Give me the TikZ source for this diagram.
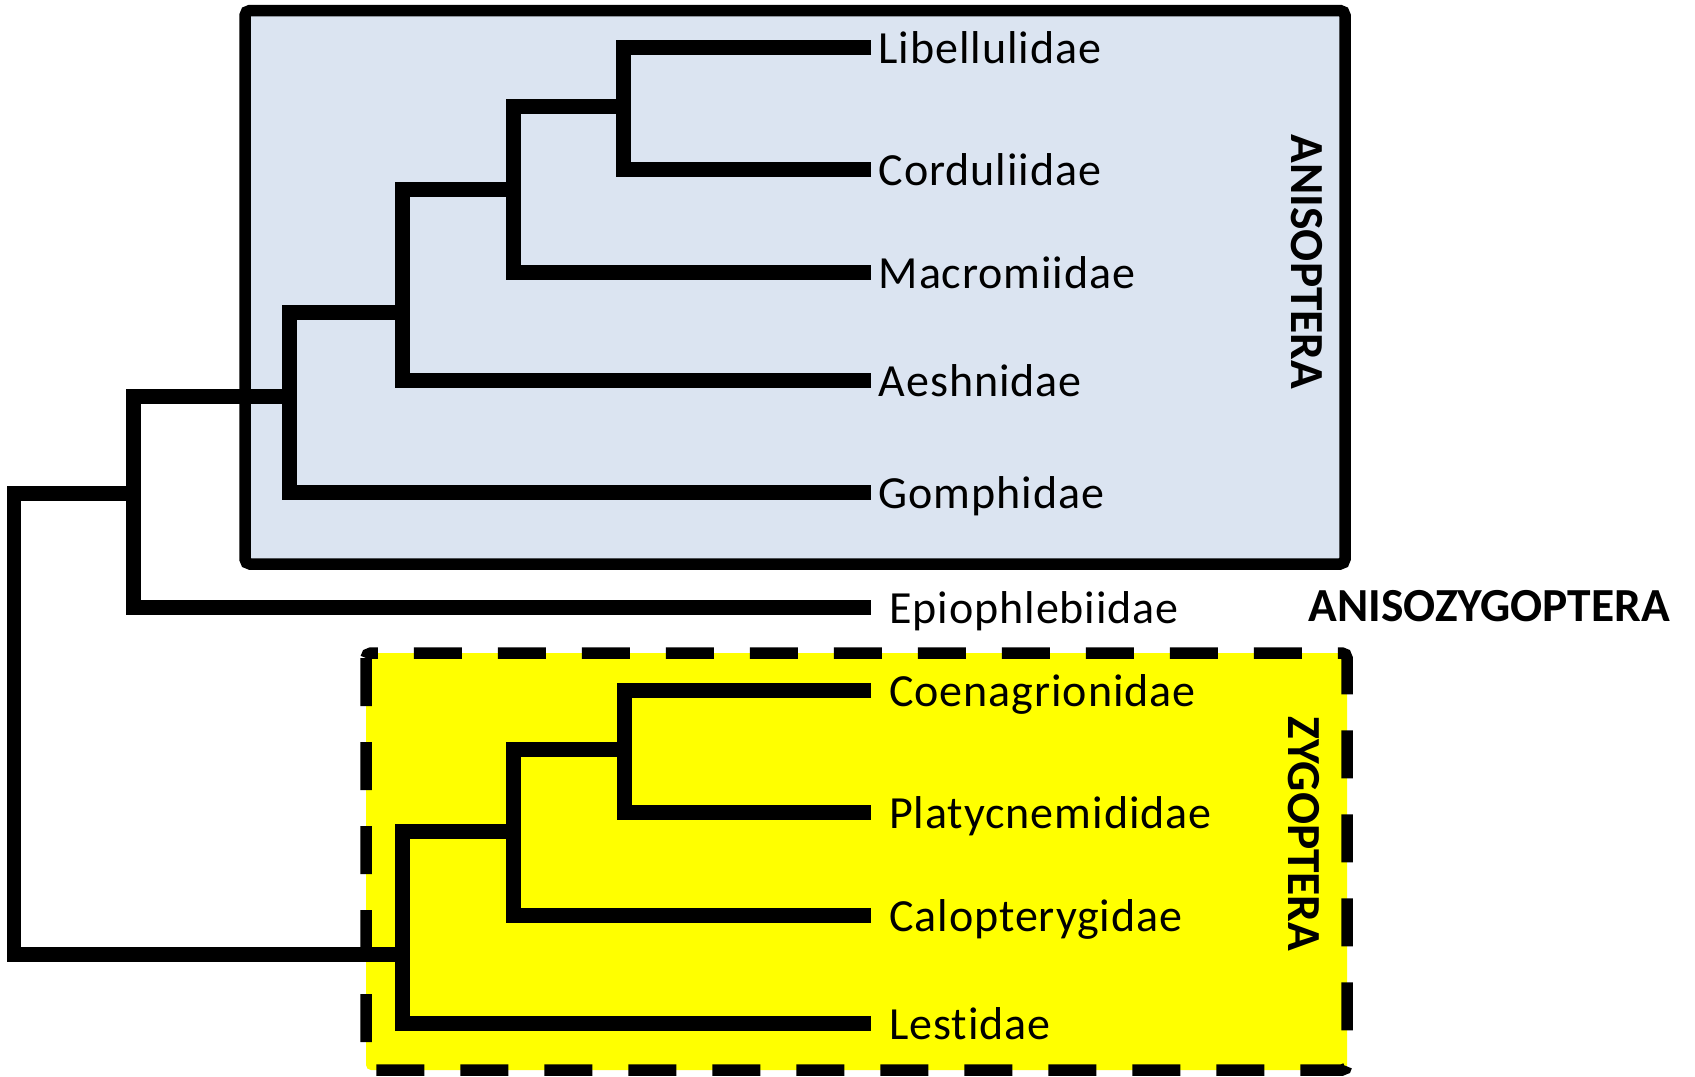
\documentclass[tikz,border=0pt]{standalone}
\usepackage{fontspec}
\setmainfont{Carlito}
\newfontfamily\leaffont[LetterSpace=2.0, Ligatures={NoCommon}]{Carlito}
\definecolor{anisofill}{RGB}{219,228,241}
\definecolor{zygofill}{RGB}{255,255,0}

\begin{document}
\begin{tikzpicture}[
    branch/.style={line width=0.15cm},
    leaf/.style={anchor=west, inner xsep=0.07cm, inner ysep=0pt, text height=0.32cm, text depth=0pt,
        font={\leaffont\fontsize{13.1pt}{15pt}\selectfont}},
    group/.style={inner sep=0pt, font={\bfseries\fontsize{13.5pt}{16pt}\selectfont}}
]
    \useasboundingbox (0,0) rectangle (16.95,-10.76);

    % Boxes
    \draw[line width=0.115cm, fill=anisofill, rounded corners=0.05cm] (2.45,-0.105) rectangle (13.45,-5.64);
    \draw[line width=0.115cm, fill=zygofill, rounded corners=0.05cm, dash pattern=on 0.48cm off 0.36cm] (3.66,-6.53) rectangle (13.47,-10.70);

    % Leaves
    \node[leaf] (Lib) at (8.71,-0.47) {Libellulidae};
    \node[leaf] (Cor) at (8.71,-1.69) {Corduliidae};
    \node[leaf] (Mac) at (8.71,-2.72) {Macromiidae};
    \node[leaf] (Aes) at (8.71,-3.80) {Aeshnidae};
    \node[leaf] (Gom) at (8.71,-4.92) {Gomphidae};
    \node[leaf, inner xsep=0.175cm] (Epi) at (8.71,-6.07) {Epiophlebiidae};
    \node[leaf, inner xsep=0.175cm] (Coe) at (8.71,-6.90) {Coenagrionidae};
    \node[leaf, inner xsep=0.175cm] (Pla) at (8.71,-8.12) {Platycnemididae};
    \node[leaf, inner xsep=0.175cm] (Cal) at (8.71,-9.15) {Calopterygidae};
    \node[leaf, inner xsep=0.175cm] (Les) at (8.71,-10.23) {Lestidae};

    % Internal nodes
    \coordinate (A1) at (6.23,-1.06);
    \coordinate (A2) at (5.13,-1.89);
    \coordinate (A3) at (4.02,-3.12);
    \coordinate (A4) at (2.89,-3.96);
    \coordinate (A5) at (1.33,-4.93);
    \coordinate (Z1) at (6.24,-7.49);
    \coordinate (Z2) at (5.13,-8.31);
    \coordinate (Z3) at (4.02,-9.54);
    \coordinate (R) at (0.14,-7.20);

    % Branches
    \draw[branch] (Lib.west) -| (A1) |- (Cor.west);
    \draw[branch] (A1) -| (A2) |- (Mac.west);
    \draw[branch] (A2) -| (A3) |- (Aes.west);
    \draw[branch] (A3) -| (A4) |- (Gom.west);
    \draw[branch] (A4) -| (A5) |- (Epi.west);

    \draw[branch] (Coe.west) -| (Z1) |- (Pla.west);
    \draw[branch] (Z1) -| (Z2) |- (Cal.west);
    \draw[branch] (Z2) -| (Z3) |- (Les.west);

    \draw[branch] (A5) -| (R) |- (Z3);

    % Group labels
    \node[group, rotate=-90, text height=0.30cm, text depth=0pt] (Aniso) at (13.06,-2.62) {ANISOPTERA};
    \node[group, anchor=base west] (Anisozyg) at (13.08,-6.21) {ANISOZYGOPTERA};
    \node[group, rotate=-90, text height=0.30cm, text depth=0pt] (Zygo) at (13.03,-8.34) {ZYGOPTERA};

\end{tikzpicture}
\end{document}
